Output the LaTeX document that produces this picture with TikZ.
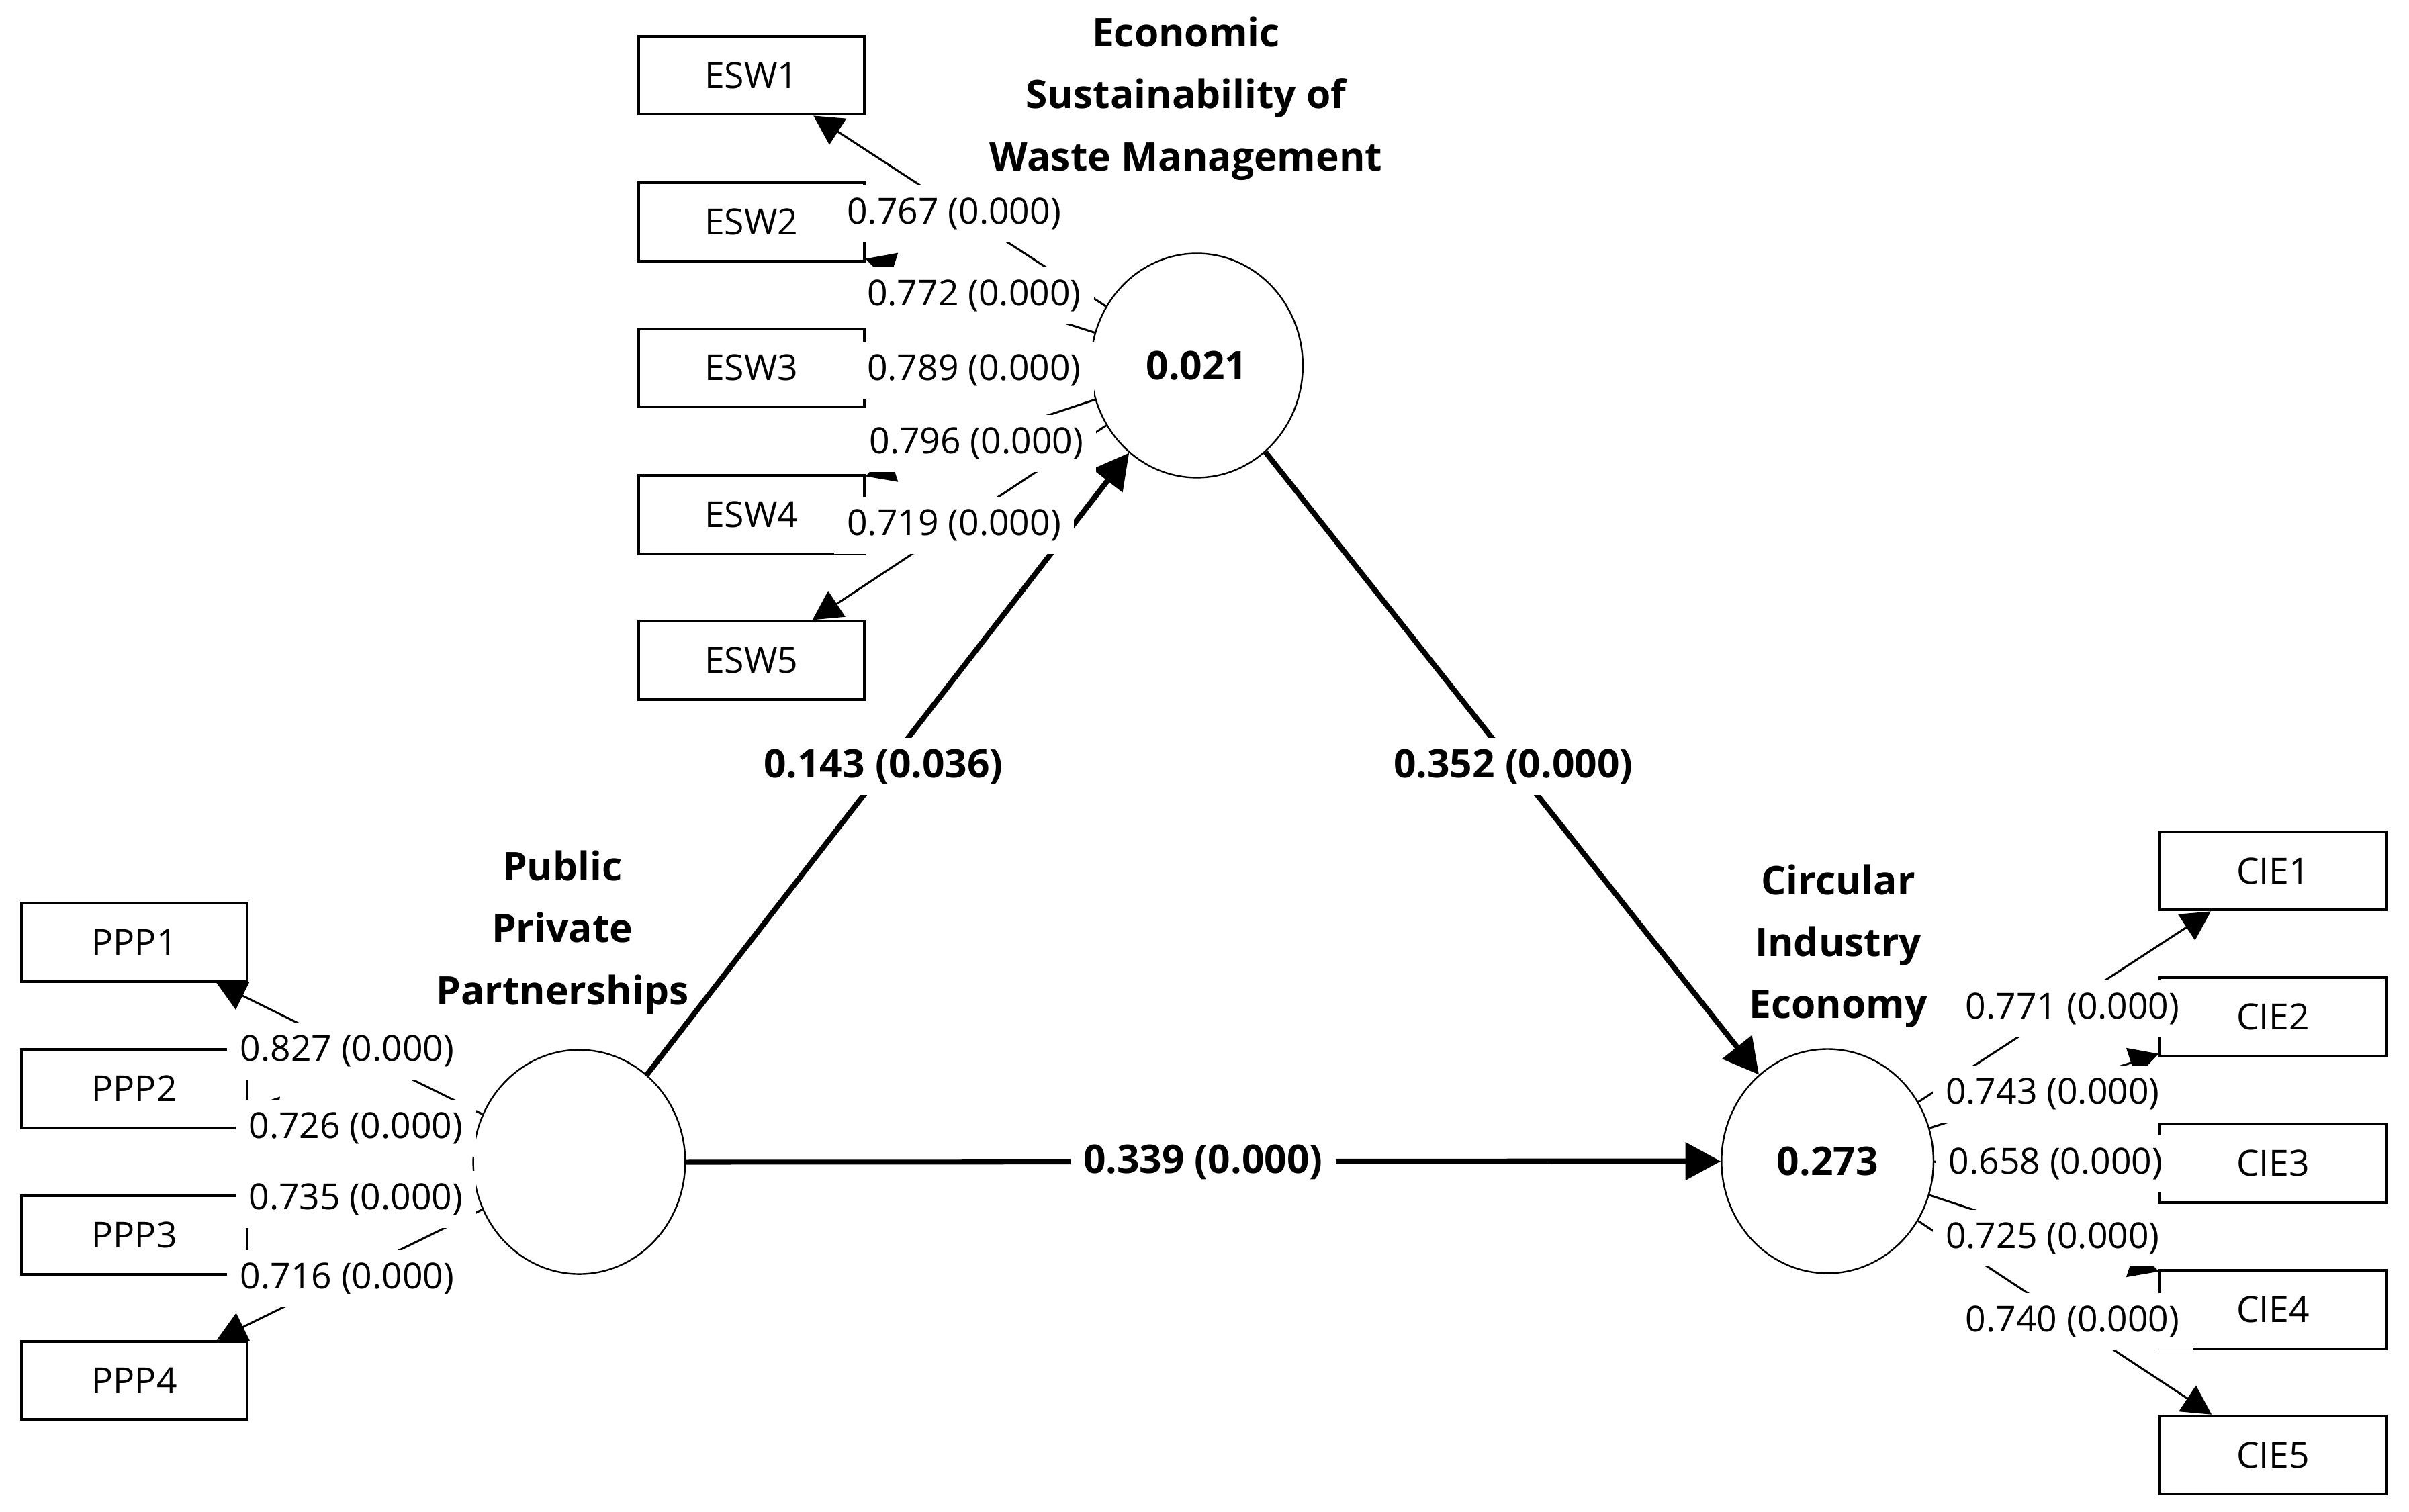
\documentclass[tikz,border=0pt]{standalone}
\usepackage{fontspec}
\setmainfont{Open Sans}
\usetikzlibrary{shapes.geometric,arrows.meta}
\begin{document}
\begin{tikzpicture}[x=0.02cm,y=-0.02cm,
  ind/.style={draw,line width=1pt,minimum width=2.94cm,minimum height=1.02cm,inner sep=0,fill=white,font=\fontsize{13.3pt}{16pt}\selectfont},
  lat/.style={ellipse,draw,line width=0.6pt,minimum width=2.76cm,minimum height=2.92cm,inner sep=0,font=\bfseries\fontsize{14.6pt}{18pt}\selectfont},
  latname/.style={align=center,inner sep=0,font=\bfseries\fontsize{14.6pt}{23pt}\selectfont},
  load/.style={-{Triangle[length=0.38cm,width=0.4cm]},line width=0.75pt},
  struct/.style={-{Triangle[length=0.46cm,width=0.48cm]},line width=2pt},
  lbl/.style={fill=white,inner xsep=0.17cm,inner ysep=0,minimum height=0.74cm,font=\fontsize{13.3pt}{16pt}\selectfont},
  plbl/.style={lbl,font=\bfseries\fontsize{14.6pt}{18pt}\selectfont}
]
\path[use as bounding box] (0,0) rectangle (1568,984);

% indicator boxes
\node[ind] (esw1) at (489,49) {ESW1};
\node[ind] (esw2) at (489,144.5) {ESW2};
\node[ind] (esw3) at (489,239.5) {ESW3};
\node[ind] (esw4) at (489,335) {ESW4};
\node[ind] (esw5) at (489,430) {ESW5};
\node[ind] (ppp1) at (87.5,613.5) {PPP1};
\node[ind] (ppp2) at (87.5,708.7) {PPP2};
\node[ind] (ppp3) at (87.5,804) {PPP3};
\node[ind] (ppp4) at (87.5,898.7) {PPP4};
\node[ind] (cie1) at (1479.5,567) {CIE1};
\node[ind] (cie2) at (1479.5,662) {CIE2};
\node[ind] (cie3) at (1479.5,757.4) {CIE3};
\node[ind] (cie4) at (1479.5,852.6) {CIE4};
\node[ind] (cie5) at (1479.5,947.3) {CIE5};

% latent variables
\node[lat] (esw) at (779,238) {0.021};
\node[lat] (ppp) at (377,756.5) {};
\node[lat] (cie) at (1189.5,756) {0.273};

\node[latname] (eswname) at (772,64) {Economic\\Sustainability of\\Waste Management};
\node[latname] (pppname) at (366,607) {Public\\Private\\Partnerships};
\node[latname] (ciename) at (1196.5,616) {Circular\\Industry\\Economy};

% outer loadings
\draw[load] (esw) -- (esw1);
\draw[load] (esw) -- (esw2);
\draw[load] (esw) -- (esw3);
\draw[load] (esw) -- (esw4);
\draw[load] (esw) -- (esw5);
\draw[load] (ppp) -- (ppp1);
\draw[load] (ppp) -- (ppp2);
\draw[load] (ppp) -- (ppp3);
\draw[load] (ppp) -- (ppp4);
\draw[load] (cie) -- (cie1);
\draw[load] (cie) -- (cie2);
\draw[load] (cie) -- (cie3);
\draw[load] (cie) -- (cie4);
\draw[load] (cie) -- (cie5);

% structural paths
\draw[struct] (ppp) -- (esw);
\draw[struct] (esw) -- (cie);
\draw[struct] (ppp) -- (cie);

% loading labels
\node[lbl] (l1) at (621,139) {0.767 (0.000)};
\node[lbl] (l2) at (634,192.5) {0.772 (0.000)};
\node[lbl] (l3) at (634,241) {0.789 (0.000)};
\node[lbl] (l4) at (635.5,288.8) {0.796 (0.000)};
\node[lbl] (l5) at (621,342) {0.719 (0.000)};
\node[lbl] (l6) at (226,684.4) {0.827 (0.000)};
\node[lbl] (l7) at (231.6,734.6) {0.726 (0.000)};
\node[lbl] (l8) at (231.6,781) {0.735 (0.000)};
\node[lbl] (l9) at (226,832.5) {0.716 (0.000)};
\node[lbl] (l10) at (1349,656.5) {0.771 (0.000)};
\node[lbl] (l11) at (1336,712.2) {0.743 (0.000)};
\node[lbl] (l12) at (1338,757.7) {0.658 (0.000)};
\node[lbl] (l13) at (1336,806) {0.725 (0.000)};
\node[lbl] (l14) at (1349,860.3) {0.740 (0.000)};

% path labels
\node[plbl] (p1) at (575,499) {0.143 (0.036)};
\node[plbl] (p2) at (985,499) {0.352 (0.000)};
\node[plbl] (p3) at (783,756.5) {0.339 (0.000)};
\end{tikzpicture}
\end{document}
